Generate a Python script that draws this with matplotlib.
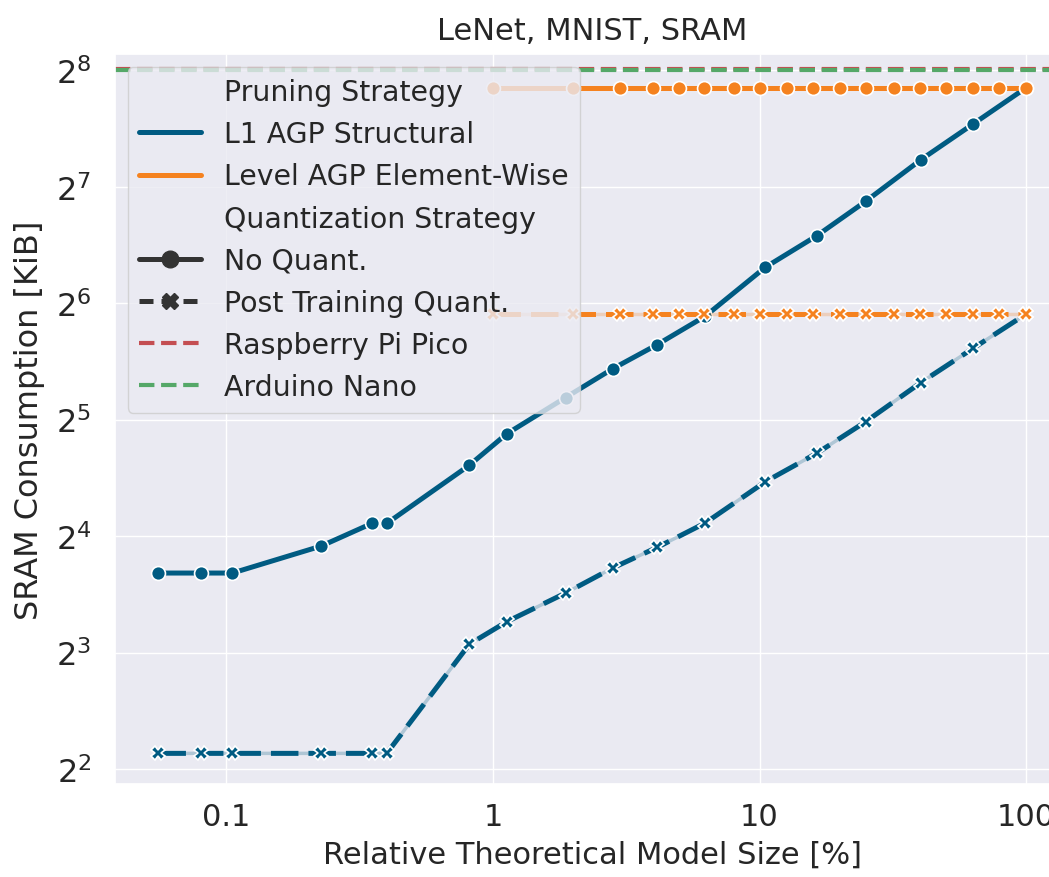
import numpy as np
import matplotlib
matplotlib.use('Agg')
import matplotlib.pyplot as plt
import seaborn as sns
from matplotlib.lines import Line2D
from matplotlib.ticker import FuncFormatter

# values (x in %, y in KiB)
l1_x = [0.0556, 0.0802, 0.1053, 0.227, 0.351, 0.3995, 0.816, 1.126, 1.873,
        2.81, 4.13, 6.25, 10.5, 16.4, 25.0, 40.3, 63.2, 100]
l1_noq = [12.84, 12.84, 12.84, 15.08, 17.25, 17.25, 24.4, 29.4, 36.5,
          43.3, 50.0, 59.2, 79.2, 95.6, 117.3, 150.3, 185.8, 230.7]
l1_ptq = [4.39, 4.39, 4.39, 4.39, 4.39, 4.39, 8.41, 9.61, 11.40,
          13.23, 14.96, 17.29, 22.1, 26.2, 31.6, 39.9, 48.9, 60.0]

lvl_x = [1, 2, 3, 4, 5, 6.2, 8, 10, 12.7, 15.9, 20, 25, 32, 40, 50, 63, 79, 100]
lvl_noq = [230.7] * len(lvl_x)
lvl_ptq = [60.0] * len(lvl_x)

pico_sram = 264000 / 1024.0
nano_sram = 256.0

c_l1 = '#005b82'
c_lvl = '#f5821f'

sns.set_theme(style='darkgrid')
plt.rcParams['font.family'] = ['DejaVu Sans']

fig = plt.figure(figsize=(10.49, 8.78), dpi=100)
ax = fig.add_axes([0.1096, 0.1059, 0.910, 0.8314])

lw = 3.6
for xs, noq, ptq, c in [(l1_x, l1_noq, l1_ptq, c_l1), (lvl_x, lvl_noq, lvl_ptq, c_lvl)]:
    ax.plot(xs, noq, color=c, lw=lw, marker='o', ms=10, mec='white', mew=1.2)
    # thin band of the error interval shows between the dashes
    ax.plot(xs, ptq, color=c, lw=2.5, alpha=0.25)
    ax.plot(xs, ptq, color=c, lw=lw, dashes=(5.5, 2), marker='X', ms=10,
            mec='white', mew=1.2)

ax.axhline(pico_sram, color='#c44e52', ls='--', lw=3)
ax.axhline(nano_sram, color='#55a868', ls='--', lw=3)

ax.set_xscale('log')
ax.set_yscale('log', base=2)
ax.set_xlim(10 ** -1.418, 10 ** 2.163)
ax.set_ylim(2 ** 1.871, 2 ** 8.139)
ax.xaxis.set_major_formatter(FuncFormatter(lambda v, p: '{:g}'.format(v)))
ax.tick_params(axis='x', labelsize=22, pad=7)
ax.tick_params(axis='y', labelsize=23, pad=11)

ax.set_xlabel('Relative Theoretical Model Size [%]', fontsize=22, labelpad=6)
ax.set_ylabel('SRAM Consumption [KiB]', fontsize=23, labelpad=8)
ax.set_title('LeNet, MNIST, SRAM', fontsize=22, pad=11)

blank = Line2D([], [], color='none')
handles = [blank,
           Line2D([], [], color=c_l1, lw=lw),
           Line2D([], [], color=c_lvl, lw=lw),
           blank,
           Line2D([], [], color='.2', lw=lw, marker='o', ms=12),
           Line2D([], [], color='.2', lw=lw, dashes=(2.8, 1.6), marker='X', ms=12),
           Line2D([], [], color='#c44e52', ls='--', lw=3),
           Line2D([], [], color='#55a868', ls='--', lw=3)]
labels = ['Pruning Strategy', 'L1 AGP Structural', 'Level AGP Element-Wise',
          'Quantization Strategy', 'No Quant.', 'Post Training Quant.',
          'Raspberry Pi Pico', 'Arduino Nano']
ax.legend(handles, labels, loc='upper left', fontsize=20.4, handlelength=2.2,
          borderaxespad=0.45)

fig.savefig('out.png', dpi=100)
